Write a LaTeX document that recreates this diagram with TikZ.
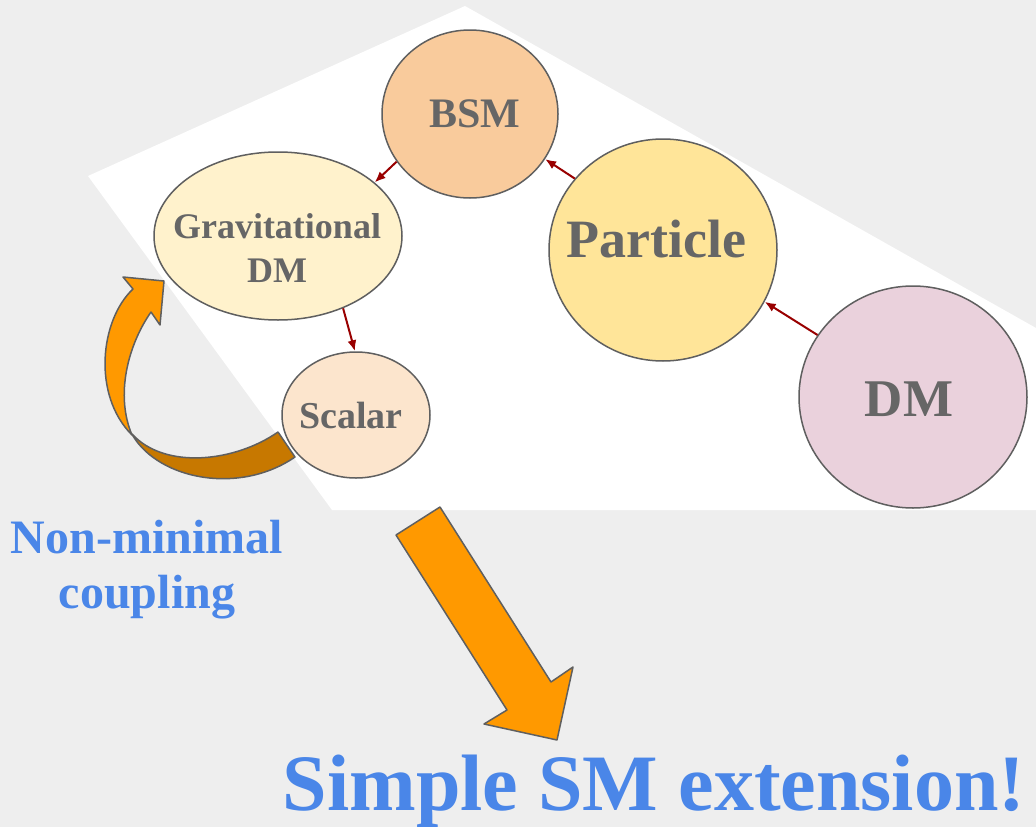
\documentclass[tikz,border=0pt]{standalone}
\usepackage{fontspec}
\setmainfont{Liberation Serif}
\usetikzlibrary{arrows.meta,shapes.geometric}

\definecolor{slidegray}{HTML}{EEEEEE}
\definecolor{edgegray}{HTML}{5F5F5F}
\definecolor{textgray}{HTML}{666666}
\definecolor{linkred}{HTML}{990000}
\definecolor{noteblue}{HTML}{4A86E8}
\definecolor{arrorange}{HTML}{FF9900}
\definecolor{arrshade}{HTML}{C77800}
\definecolor{bsmfill}{HTML}{F9CB9C}
\definecolor{gravfill}{HTML}{FFF2CC}
\definecolor{scalarfill}{HTML}{FCE5CD}
\definecolor{partfill}{HTML}{FFE599}
\definecolor{dmfill}{HTML}{EAD1DC}

\begin{document}
\begin{tikzpicture}[
  x=1pt, y=-1pt,
  bubble/.style={ellipse, draw=edgegray, line width=1.5pt, inner sep=0pt},
  bubbletext/.style={anchor=base, inner sep=0pt, text=textgray, align=center,
    font=\bfseries\fontsize{#1}{44pt}\selectfont},
  link/.style={draw=linkred, line width=2pt, -{Latex[length=11pt,width=9pt]}},
  bigarrow/.style={fill=arrorange, draw=edgegray, line width=1.5pt, line join=round},
  note/.style={anchor=base, inner sep=0pt, text=noteblue, align=center,
    font=\bfseries\fontsize{#1}{55pt}\selectfont}
]

  % slide background and the white panel behind the bubbles
  \useasboundingbox (0,0) rectangle (1036,827);
  \fill[slidegray] (0,0) rectangle (1036,827);
  \fill[white] (88,176) -- (465,6) -- (1036,328) -- (1036,510) -- (332,510) -- cycle;

  % twisted loop arrow, front face then back face
  \filldraw[bigarrow] (132,435) .. controls (92,395) and (100,320) .. (133,289)
    -- (123,277) -- (164,281) -- (160,325) -- (151,312)
    .. controls (128,345) and (115,395) .. (132,435) -- cycle;
  \filldraw[bigarrow, fill=arrshade] (133,436) .. controls (160,480) and (240,495) .. (295,457)
    -- (278,432) .. controls (235,462) and (165,470) .. (132,434) -- cycle;

  % bubbles
  \node[bubble, fill=bsmfill,    minimum width=176pt, minimum height=168pt] (bsm)      at (470,114) {};
  \node[bubble, fill=gravfill,   minimum width=248pt, minimum height=168pt] (grav)     at (278,236) {};
  \node[bubble, fill=scalarfill, minimum width=148pt, minimum height=126pt] (scalar)   at (356,415) {};
  \node[bubble, fill=partfill,   minimum width=228pt, minimum height=222pt] (particle) at (663,250) {};
  \node[bubble, fill=dmfill,     minimum width=228pt, minimum height=222pt] (dm)       at (913,397) {};

  % base of a two-line label is its last line
  \node[bubbletext=42pt] (bsm-txt)      at (475,127) {BSM};
  \node[bubbletext=36pt] (grav-txt)     at (277,282) {Gravitational\\DM};
  \node[bubbletext=38pt] (scalar-txt)   at (351,428) {Scalar};
  \node[bubbletext=54pt] (particle-txt) at (656,257) {Particle};
  \node[bubbletext=53pt] (dm-txt)       at (909,416) {DM};

  % links between bubbles
  \draw[link] (dm.147) -- (particle.-27);
  \draw[link] (particle.141) -- (bsm.-31);
  \draw[link] (bsm.-147) -- (grav.29);
  \draw[link] (grav.-48) -- (scalar.91);

  % big arrow down to the conclusion
  \filldraw[bigarrow] (396,535) -- (440,507) -- (551,682) -- (573,667)
    -- (557,740) -- (484,724) -- (507,710) -- cycle;

  \node[note=48pt] (coupling) at (147,608) {Non-minimal\\coupling};
  \node[note=80pt] (extension) at (654,810) {Simple SM extension!};

\end{tikzpicture}
\end{document}
